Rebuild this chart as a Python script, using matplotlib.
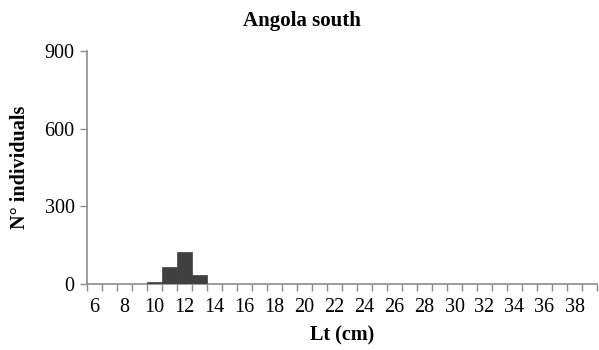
import numpy as np
import matplotlib.pyplot as plt

plt.rcParams['font.family'] = ['Liberation Serif', 'DejaVu Serif']

# length classes (cm) and counts
lengths = list(range(6, 40))
counts = [0, 0, 0, 0, 7, 67, 122, 36] + [0] * 26
tick_labels = [str(v) if v % 2 == 0 else '' for v in lengths]

W, H = 599, 350
fig = plt.figure(figsize=(W / 100, H / 100), dpi=100)
ax = fig.add_axes([87 / W, 1 - 284 / H, 510 / W, 233 / H])

x = np.arange(len(lengths))
ax.bar(x, counts, width=1.0, color='#404040', edgecolor='#404040', linewidth=0.5, zorder=3)

ax.set_xlim(-0.5, len(lengths) - 0.5)
ax.set_ylim(0, 900)
ax.set_yticks([0, 300, 600, 900])

# ticks between categories, labels centred on every other class
ax.set_xticks(np.arange(len(lengths) + 1) - 0.5)
ax.set_xticklabels([])
ax.set_xticks(x, minor=True)
ax.set_xticklabels(tick_labels, minor=True)
ax.tick_params(axis='x', which='major', direction='out', length=5, color='#8c8c8c', width=1)
ax.tick_params(axis='x', which='minor', length=0, labelsize=14.5, pad=10)
ax.tick_params(axis='y', direction='out', length=5, color='#8c8c8c', width=1, labelsize=14.5, pad=4)

for side in ['top', 'right']:
    ax.spines[side].set_visible(False)
for side in ['left', 'bottom']:
    ax.spines[side].set_color('#8c8c8c')
    ax.spines[side].set_linewidth(1.2)

fig.text(302 / W, 1 - 26 / H, 'Angola south', fontsize=15, fontweight='bold',
         ha='center', va='baseline')

ax.set_xlabel('Lt (cm)', fontsize=14.5, fontweight='bold')
ax.xaxis.set_label_coords(0.5, -(325 - 284) / 233)

ax.set_ylabel('N° individuals', fontsize=14.5, fontweight='bold')
ax.yaxis.label.set_va('center')
ax.yaxis.set_label_coords((20 - 87) / 510, 0.5)

fig.savefig('out.png', dpi=100)
